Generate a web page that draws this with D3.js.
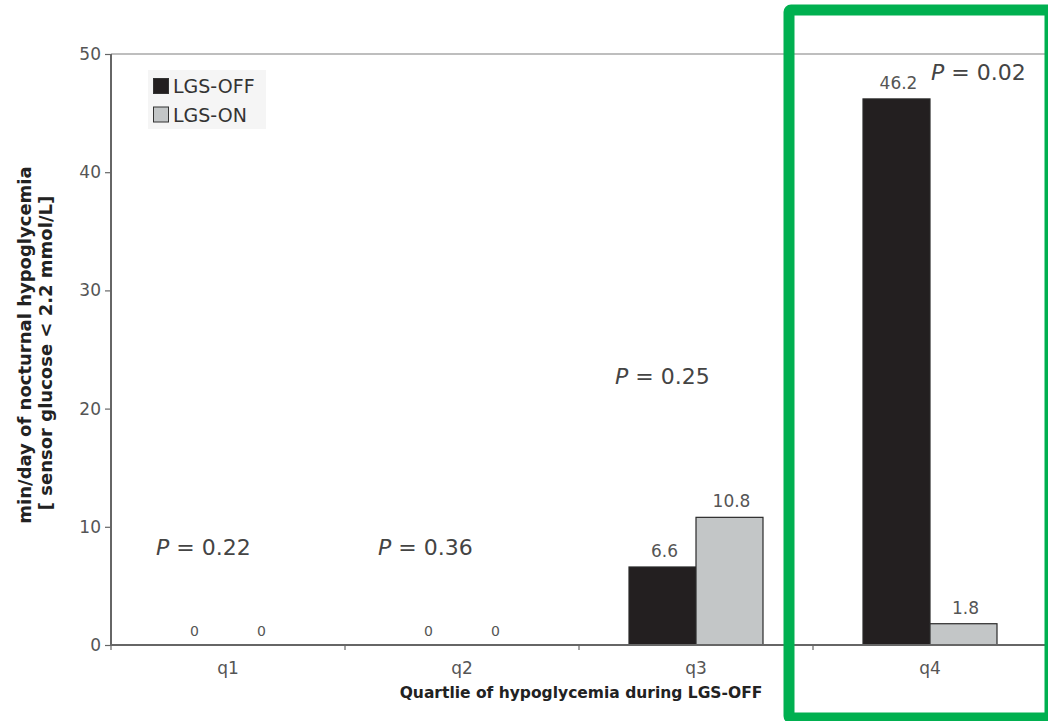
<!DOCTYPE html>
<html>
<head>
<meta charset="utf-8">
<script src="https://cdn.jsdelivr.net/npm/d3@7"></script>
<style>
  html, body { margin: 0; padding: 0; background: #fff; }
  svg { display: block; font-family: "DejaVu Sans", Verdana, sans-serif; }
</style>
</head>
<body>
<svg id="chart" width="1048" height="721"></svg>
<script>
// ---- data ----
const categories = ["q1", "q2", "q3", "q4"];
const seriesNames = ["LGS-OFF", "LGS-ON"];
const lgsOff = [0, 0, 6.6, 46.2];
const lgsOn = [0, 0, 10.8, 1.8];
const pValues = ["0.22", "0.36", "0.25", "0.02"];
const yTicks = [0, 10, 20, 30, 40, 50];
const yTitleLines = ["min/day of nocturnal hypoglycemia", "[ sensor glucose < 2.2 mmol/L]"];
const xTitle = "Quartlie of hypoglycemia during LGS-OFF";

// ---- layout ----
const svg = d3.select("#chart");
const plot = { left: 111, right: 1047, top: 54, bottom: 645 };
const colors = { "LGS-OFF": "#231f20", "LGS-ON": "#c3c6c7" };

const x = d3.scaleBand().domain(categories).range([plot.left, plot.right]).padding(0);
const xInner = d3.scaleBand().domain(seriesNames).range([50, 184]).padding(0);
const y = d3.scaleLinear().domain([0, 50]).range([plot.bottom, plot.top]);

const rows = categories.map((c, i) => ({
  cat: c,
  values: [{ s: "LGS-OFF", v: lgsOff[i] }, { s: "LGS-ON", v: lgsOn[i] }],
  p: pValues[i]
}));

// top frame line
svg.append("line")
  .attr("x1", plot.left).attr("x2", plot.right)
  .attr("y1", y(50)).attr("y2", y(50))
  .attr("stroke", "#a8a8a8").attr("stroke-width", 1.5);

// bars
const g = svg.append("g");
rows.forEach(r => {
  r.values.forEach(d => {
    if (d.v > 0) {
      g.append("rect")
        .attr("x", x(r.cat) + xInner(d.s))
        .attr("y", y(d.v))
        .attr("width", xInner.bandwidth())
        .attr("height", y(0) - y(d.v))
        .attr("fill", colors[d.s])
        .attr("stroke", "#2a2a2a")
        .attr("stroke-width", 1.2);
    }
    g.append("text")
      .attr("x", x(r.cat) + xInner(d.s) + xInner.bandwidth() / 2 + (d.v > 0 ? 2 : 0))
      .attr("y", y(d.v) - (d.v > 0 ? 10 : 9))
      .attr("text-anchor", "middle")
      .attr("fill", "#555")
      .attr("font-size", d.v > 0 ? 17 : 14)
      .text(d.v);
  });
});

// P-value labels
const pPos = [
  { dx: 45, yv: 7.6 },
  { dx: 33, yv: 7.6 },
  { dx: 36, yv: 22.1 },
  { dx: 118, yv: 47.8 }
];
rows.forEach((r, i) => {
  const t = svg.append("text")
    .attr("x", x(r.cat) + pPos[i].dx)
    .attr("y", y(pPos[i].yv))
    .attr("fill", "#444")
    .attr("font-size", 22);
  t.append("tspan").attr("font-style", "italic").text("P");
  t.append("tspan").text(" = " + r.p);
});

// y axis
const yAxis = d3.axisLeft(y).tickValues(yTicks).tickSize(6).tickPadding(4);
const ya = svg.append("g").attr("transform", `translate(${plot.left},0)`).call(yAxis);
ya.select(".domain").attr("stroke", "#666").attr("stroke-width", 2).attr("d", `M0,${plot.top}V${plot.bottom}`);
ya.selectAll(".tick line").attr("stroke", "#666").attr("stroke-width", 1.2);
ya.selectAll(".tick text").attr("fill", "#555").attr("font-size", 17)
  .attr("font-family", "DejaVu Sans, Verdana, sans-serif");

// x axis
const xAxis = d3.axisBottom(x).tickSize(0).tickPadding(17);
const xa = svg.append("g").attr("transform", `translate(0,${plot.bottom})`).call(xAxis);
xa.select(".domain").attr("stroke", "#666").attr("stroke-width", 2).attr("d", `M${plot.left},0H${plot.right}`);
xa.selectAll(".tick text").attr("fill", "#555").attr("font-size", 17)
  .attr("font-family", "DejaVu Sans, Verdana, sans-serif");
// boundary ticks
xa.selectAll(".bound").data(categories).enter().append("line")
  .attr("x1", d => x(d)).attr("x2", d => x(d))
  .attr("y1", 0).attr("y2", 5)
  .attr("stroke", "#666").attr("stroke-width", 1.2);

// axis titles
svg.append("text")
  .attr("x", 581).attr("y", 698)
  .attr("text-anchor", "middle")
  .attr("font-weight", "bold").attr("font-size", 15.5).attr("fill", "#222")
  .text(xTitle);

svg.append("text")
  .attr("transform", "translate(30.5,345) rotate(-90)")
  .attr("text-anchor", "middle")
  .attr("font-weight", "bold").attr("font-size", 18).attr("fill", "#222")
  .text(yTitleLines[0]);
svg.append("text")
  .attr("transform", "translate(51.5,353) rotate(-90)")
  .attr("text-anchor", "middle")
  .attr("font-weight", "bold").attr("font-size", 18).attr("fill", "#222")
  .text(yTitleLines[1]);

// legend
const lg = svg.append("g").attr("transform", "translate(148,70)");
lg.append("rect").attr("width", 118).attr("height", 59).attr("fill", "#f5f5f5");
seriesNames.forEach((s, i) => {
  lg.append("rect")
    .attr("x", 5.5).attr("y", 8.5 + i * 28.5)
    .attr("width", 15).attr("height", 15)
    .attr("fill", colors[s]).attr("stroke", "#333").attr("stroke-width", 1);
  lg.append("text")
    .attr("x", 25).attr("y", 23 + i * 28.5)
    .attr("font-size", 19).attr("fill", "#333")
    .text(s);
});

// green highlight box
svg.append("rect")
  .attr("x", 789).attr("y", 10).attr("width", 261).attr("height", 708)
  .attr("fill", "none").attr("stroke", "#00b050").attr("stroke-width", 11)
  .attr("rx", 2);
</script>
</body>
</html>
